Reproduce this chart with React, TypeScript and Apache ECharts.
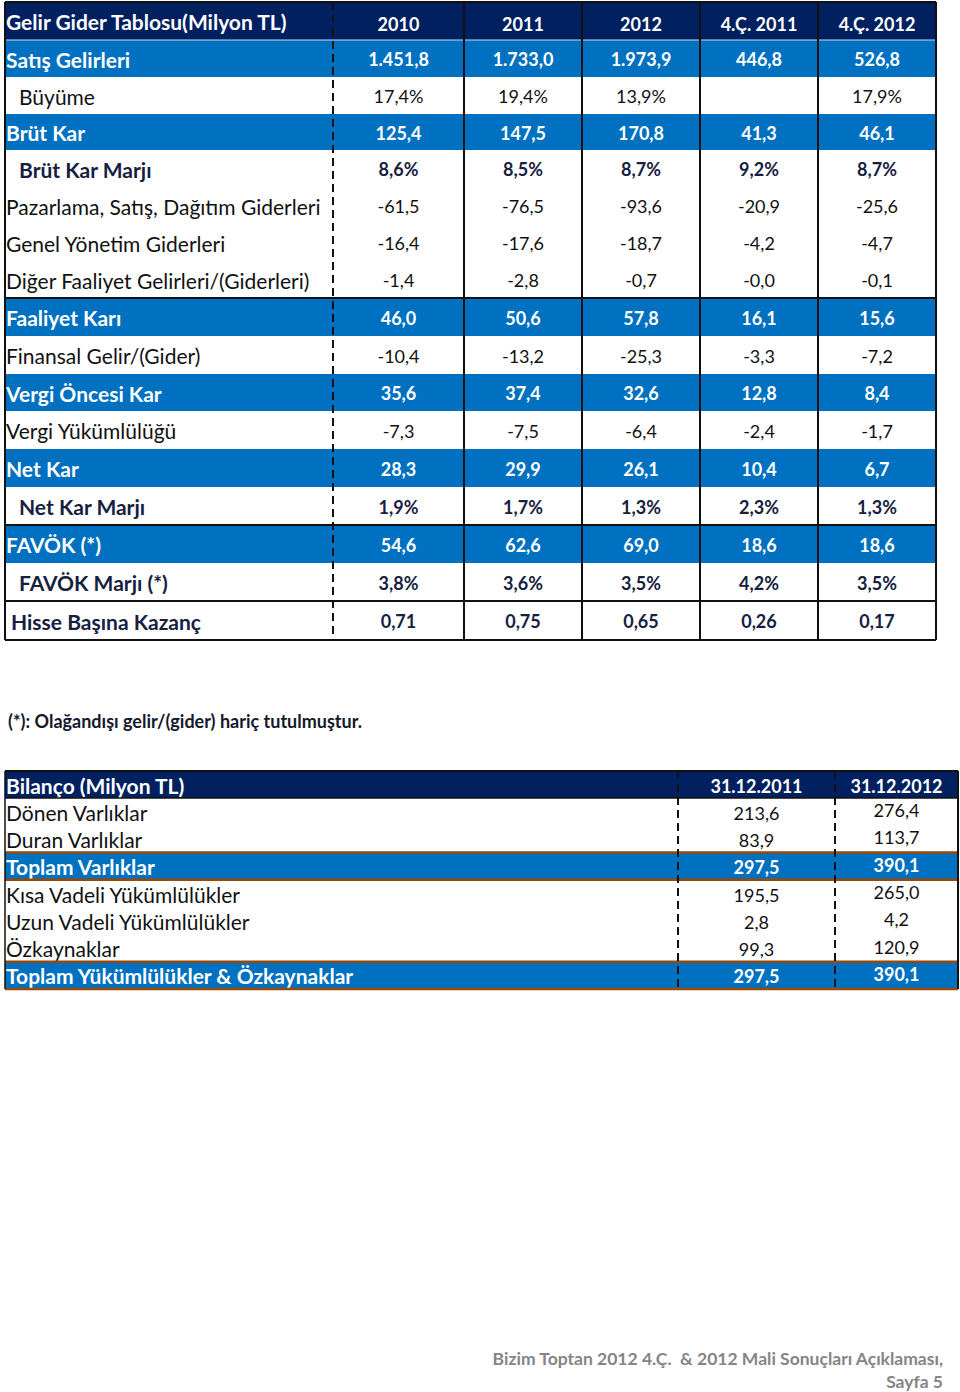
import React, { useEffect, useRef } from "react";
import * as echarts from "echarts";

// ---------- DATA ----------
const incomeTitle = "Gelir Gider Tablosu(Milyon TL)";
const incomePeriods = ["2010", "2011", "2012", "4.Ç. 2011", "4.Ç. 2012"];
const incomeLabels = [
  "Satış Gelirleri",
  "Büyüme",
  "Brüt Kar",
  "Brüt Kar Marjı",
  "Pazarlama, Satış, Dağıtım Giderleri",
  "Genel Yönetim Giderleri",
  "Diğer Faaliyet Gelirleri/(Giderleri)",
  "Faaliyet Karı",
  "Finansal Gelir/(Gider)",
  "Vergi Öncesi Kar",
  "Vergi Yükümlülüğü",
  "Net Kar",
  "Net Kar Marjı",
  "FAVÖK (*)",
  "FAVÖK Marjı (*)",
  "Hisse Başına Kazanç",
];
const values2010 = ["1.451,8", "17,4%", "125,4", "8,6%", "-61,5", "-16,4", "-1,4", "46,0", "-10,4", "35,6", "-7,3", "28,3", "1,9%", "54,6", "3,8%", "0,71"];
const values2011 = ["1.733,0", "19,4%", "147,5", "8,5%", "-76,5", "-17,6", "-2,8", "50,6", "-13,2", "37,4", "-7,5", "29,9", "1,7%", "62,6", "3,6%", "0,75"];
const values2012 = ["1.973,9", "13,9%", "170,8", "8,7%", "-93,6", "-18,7", "-0,7", "57,8", "-25,3", "32,6", "-6,4", "26,1", "1,3%", "69,0", "3,5%", "0,65"];
const valuesQ4_2011 = ["446,8", "", "41,3", "9,2%", "-20,9", "-4,2", "-0,0", "16,1", "-3,3", "12,8", "-2,4", "10,4", "2,3%", "18,6", "4,2%", "0,26"];
const valuesQ4_2012 = ["526,8", "17,9%", "46,1", "8,7%", "-25,6", "-4,7", "-0,1", "15,6", "-7,2", "8,4", "-1,7", "6,7", "1,3%", "18,6", "3,5%", "0,17"];

const footnote = "(*): Olağandışı gelir/(gider) hariç tutulmuştur.";

const balanceTitle = "Bilanço (Milyon TL)";
const balanceDates = ["31.12.2011", "31.12.2012"];
const balanceLabels = [
  "Dönen Varlıklar",
  "Duran Varlıklar",
  "Toplam Varlıklar",
  "Kısa Vadeli Yükümlülükler",
  "Uzun Vadeli Yükümlülükler",
  "Özkaynaklar",
  "Toplam Yükümlülükler & Özkaynaklar",
];
const balance2011 = ["213,6", "83,9", "297,5", "195,5", "2,8", "99,3", "297,5"];
const balance2012 = ["276,4", "113,7", "390,1", "265,0", "4,2", "120,9", "390,1"];

const footerLines = ["Bizim Toptan 2012 4.Ç.  & 2012 Mali Sonuçları Açıklaması,", "Sayfa 5"];

// ---------- STYLES / LAYOUT ----------
type Kind = "total" | "indent" | "indentBold" | "plain" | "eps";
const incomeKinds: Kind[] = [
  "total", "indent", "total", "indentBold", "plain", "plain", "plain", "total",
  "plain", "total", "plain", "total", "indentBold", "total", "indentBold", "eps",
];
const balanceTotals = [false, false, true, false, false, false, true];

const NAVY = "#002060";
const BLUE = "#0070C0";
const BROWN = "#984807";
const DARK = "#15213f";
const FONT = "Lato";
const LABEL_SIZE = 21;
const VALUE_SIZE = 18;

const T1_X = [5, 333, 464, 582, 700, 818, 936];
const T1_TOP = 2;
const T1_Y = [40, 77, 114, 150, 187, 224, 261, 298, 336, 374, 411, 449, 487, 525, 563, 601, 640];
const T1_HLINES = [298, 525, 601];

const T2_X = [5, 678, 835, 958];
const T2_TOP = 771;
const T2_HEAD_BOTTOM = 798;

function txt(text: string, x: number, y: number, opts: any) {
  return {
    type: "text",
    silent: true,
    style: {
      text,
      x,
      y,
      fill: opts.fill,
      fontSize: opts.size,
      fontWeight: opts.bold ? "bold" : "normal",
      fontFamily: FONT,
      textAlign: opts.align || "left",
      textVerticalAlign: "middle",
    },
  };
}

function line(x1: number, y1: number, x2: number, y2: number, stroke: string, lw: number, dash?: number[]) {
  return {
    type: "line",
    silent: true,
    shape: { x1, y1, x2, y2 },
    style: { stroke, lineWidth: lw, lineDash: dash || null },
  };
}

function buildGraphic() {
  const els: any[] = [];
  const cols = [values2010, values2011, values2012, valuesQ4_2011, valuesQ4_2012];
  const left = T1_X[0];
  const right = T1_X[T1_X.length - 1];

  els.push({ type: "rect", silent: true, shape: { x: left, y: T1_TOP, width: right - left, height: T1_Y[0] - T1_TOP }, style: { fill: NAVY } });
  incomeKinds.forEach((k, i) => {
    if (k === "total") {
      els.push({ type: "rect", silent: true, shape: { x: left, y: T1_Y[i], width: right - left, height: T1_Y[i + 1] - T1_Y[i] }, style: { fill: BLUE } });
    }
  });
  els.push(line(left, T1_Y[0], right, T1_Y[0], "#c9dcef", 1));

  els.push(txt(incomeTitle, 6, 21, { fill: "#fff", size: LABEL_SIZE, bold: true }));
  incomePeriods.forEach((p, j) => {
    const cx = (T1_X[j + 1] + T1_X[j + 2]) / 2;
    els.push(txt(p, cx, 24, { fill: "#fff", size: VALUE_SIZE, bold: true, align: "center" }));
  });

  incomeLabels.forEach((lab, i) => {
    const k = incomeKinds[i];
    const cy = (T1_Y[i] + T1_Y[i + 1]) / 2 + 0.5;
    const isTotal = k === "total";
    const bold = k !== "plain" && k !== "indent";
    const color = isTotal ? "#fff" : bold ? DARK : "#111";
    const lx = k === "indent" || k === "indentBold" ? 19 : k === "eps" ? 11 : 6;
    els.push(txt(lab, lx, cy, { fill: color, size: LABEL_SIZE, bold }));
    cols.forEach((col, j) => {
      const cx = (T1_X[j + 1] + T1_X[j + 2]) / 2;
      if (col[i]) els.push(txt(col[i], cx, cy, { fill: color, size: VALUE_SIZE, bold, align: "center" }));
    });
  });

  const bottom = T1_Y[T1_Y.length - 1];
  els.push(line(left, T1_TOP, right, T1_TOP, "#111", 2));
  els.push(line(left, bottom, right, bottom, "#111", 2));
  T1_HLINES.forEach((y) => els.push(line(left, y, right, y, "#111", 2)));
  els.push(line(left, T1_TOP, left, bottom, "#111", 2));
  els.push(line(T1_X[1], T1_TOP, T1_X[1], bottom, "#111", 2, [8, 5]));
  T1_X.slice(2).forEach((x) => els.push(line(x, T1_TOP, x, bottom, "#111", 2)));

  els.push(txt(footnote, 8, 721, { fill: "#14192b", size: 18, bold: true }));

  // ---------- table 2 ----------
  const l2 = T2_X[0];
  const r2 = T2_X[T2_X.length - 1];
  const rowH2 = (989 - T2_HEAD_BOTTOM) / balanceLabels.length;
  const y2 = (i: number) => T2_HEAD_BOTTOM + i * rowH2;
  els.push({ type: "rect", silent: true, shape: { x: l2, y: T2_TOP, width: r2 - l2, height: T2_HEAD_BOTTOM - T2_TOP }, style: { fill: NAVY } });
  balanceTotals.forEach((t, i) => {
    if (t) els.push({ type: "rect", silent: true, shape: { x: l2, y: y2(i), width: r2 - l2, height: rowH2 }, style: { fill: BLUE } });
  });
  els.push(txt(balanceTitle, 6, 785, { fill: "#fff", size: LABEL_SIZE, bold: true }));
  balanceDates.forEach((d, j) => {
    const cx = (T2_X[j + 1] + T2_X[j + 2]) / 2;
    els.push(txt(d, cx, 786, { fill: "#fff", size: VALUE_SIZE, bold: true, align: "center" }));
  });
  const bcols = [balance2011, balance2012];
  balanceLabels.forEach((lab, i) => {
    const t = balanceTotals[i];
    const cy = y2(i) + rowH2 / 2 + 0.5;
    const color = t ? "#fff" : "#111";
    els.push(txt(lab, 6, cy, { fill: color, size: LABEL_SIZE, bold: t }));
    bcols.forEach((col, j) => {
      const cx = (T2_X[j + 1] + T2_X[j + 2]) / 2;
      els.push(txt(col[i], cx, j === 1 ? cy - 2 : cy + 0.5, { fill: color, size: VALUE_SIZE, bold: t, align: "center" }));
    });
  });
  const b2 = y2(balanceLabels.length);
  els.push(line(l2, T2_TOP, r2, T2_TOP, "#111", 2));
  els.push(line(l2, T2_HEAD_BOTTOM, r2, T2_HEAD_BOTTOM, "#111", 1.5));
  balanceTotals.forEach((t, i) => {
    if (t) {
      els.push(line(l2, y2(i), r2, y2(i), BROWN, 2.5));
      els.push(line(l2, y2(i + 1), r2, y2(i + 1), BROWN, 2.5));
    }
  });
  els.push(line(l2, T2_TOP, l2, b2, "#111", 1.5));
  els.push(line(r2, T2_TOP, r2, b2, "#111", 2));
  els.push(line(T2_X[1], T2_TOP, T2_X[1], b2, "#111", 2, [8, 5]));
  els.push(line(T2_X[2], T2_TOP, T2_X[2], b2, "#111", 2, [8, 5]));

  els.push(txt(footerLines[0], 943, 1358, { fill: "#858585", size: 17.5, bold: true, align: "right" }));
  els.push(txt(footerLines[1], 943, 1381, { fill: "#858585", size: 17.5, bold: true, align: "right" }));

  return els;
}

export default function App() {
  const ref = useRef<HTMLDivElement>(null);
  useEffect(() => {
    document.body.style.margin = "0";
    const chart = echarts.init(ref.current!, null, { renderer: "svg" });
    chart.setOption({
      animation: false,
      backgroundColor: "#ffffff",
      graphic: { elements: buildGraphic() },
    });
    return () => chart.dispose();
  }, []);
  return <div ref={ref} style={{ width: 960, height: 1392 }} />;
}
